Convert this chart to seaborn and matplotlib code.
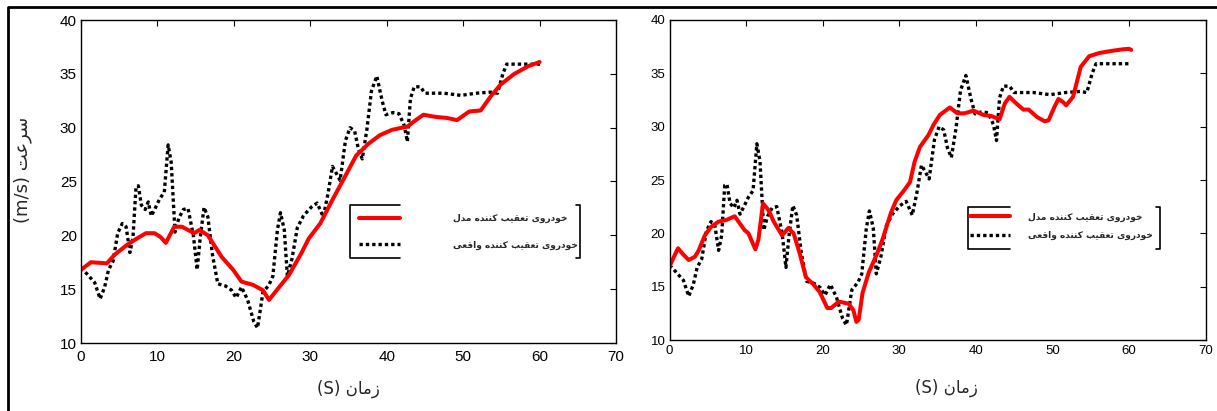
import matplotlib
matplotlib.use("Agg")
import matplotlib.pyplot as plt
from matplotlib.lines import Line2D
import seaborn as sns

# ---------------- data ----------------
t_actual = [0, 0.8, 1.8, 2.5, 3.1, 3.6, 4.2, 4.8, 5.4, 5.9, 6.4, 6.8, 7.2, 7.5, 7.9, 8.4, 8.8,
            9.2, 9.7, 10.3, 10.9, 11.4, 11.8, 12.3, 12.8, 13.4, 14.0, 14.7, 15.2, 15.6, 16.1,
            16.6, 17.2, 17.9, 18.9, 19.7, 20.3, 21.0, 21.8, 22.6, 23.1, 23.8, 24.6, 25.1, 25.7,
            26.1, 26.6, 27.0, 27.6, 28.3, 29.1, 30.1, 30.9, 31.7, 32.3, 32.9, 33.3, 33.9, 34.6,
            35.2, 35.8, 36.3, 36.8, 37.4, 38.0, 38.7, 39.4, 39.9, 40.8, 41.6, 42.3, 42.7, 43.1,
            43.6, 44.4, 45.0, 47.5, 49.7, 51.7, 53.6, 54.5, 55.2, 55.7, 57.9, 60.2]
v_actual = [17.0, 16.4, 15.6, 14.1, 15.2, 16.8, 17.6, 20.2, 21.1, 20.8, 18.4, 19.8, 24.5, 24.6,
            22.8, 22.4, 23.1, 21.8, 22.5, 23.4, 24.0, 28.4, 26.8, 20.3, 21.6, 22.4, 22.5, 20.0,
            16.8, 19.8, 22.6, 21.7, 18.2, 15.5, 15.3, 14.9, 14.2, 15.2, 14.0, 12.0, 11.4, 14.7,
            15.4, 16.2, 20.5, 22.1, 20.5, 16.2, 17.8, 20.7, 21.8, 22.6, 23.0, 21.7, 23.8, 26.4,
            25.9, 25.1, 28.8, 30.0, 29.7, 28.0, 27.1, 29.8, 33.4, 34.8, 32.5, 31.2, 31.4, 31.3,
            30.2, 28.7, 32.7, 33.8, 33.8, 33.2, 33.2, 33.0, 33.2, 33.3, 33.2, 35.0, 35.9, 35.9,
            35.9]

t_model_left = [0, 1.3, 3.4, 4.4, 6.0, 7.3, 8.5, 9.6, 10.4, 11.1, 12.2, 13.2, 14.8, 15.5, 16.6,
                18.4, 19.9, 21.0, 22.5, 23.8, 24.6, 25.6, 27.2, 28.8, 29.8, 31.3, 32.9, 34.5,
                36.0, 37.6, 39.1, 40.7, 42.7, 43.8, 44.8, 46.4, 47.9, 49.2, 50.8, 52.3, 53.6,
                54.9, 56.7, 58.5, 60.0]
v_model_left = [16.8, 17.5, 17.4, 18.2, 19.1, 19.7, 20.2, 20.2, 19.85, 19.3, 20.8, 20.8, 20.2,
                20.5, 20.0, 18.0, 16.8, 15.7, 15.4, 14.9, 14.0, 14.9, 16.3, 18.3, 19.7, 21.1,
                23.3, 25.4, 27.4, 28.5, 29.3, 29.8, 30.1, 30.7, 31.2, 31.0, 30.9, 30.7, 31.5,
                31.6, 32.9, 34.0, 35.0, 35.7, 36.1]

t_model_right = [0, 0.5, 1.1, 1.8, 2.5, 3.3, 3.8, 4.6, 5.4, 6.4, 7.4, 8.5, 9.2, 9.8, 10.3, 11.2,
                 11.6, 12.2, 12.9, 13.6, 14.7, 15.5, 16.2, 17.0, 17.8, 18.8, 19.6, 20.6, 21.1,
                 22.1, 23.4, 24.0, 24.4, 24.7, 25.2, 26.0, 27.1, 27.8, 28.9, 29.6, 30.7, 31.4,
                 32.0, 32.7, 33.8, 34.5, 35.3, 36.6, 37.6, 38.5, 39.7, 41.0, 42.0, 43.1, 43.8,
                 44.4, 45.1, 46.2, 46.9, 48.0, 49.0, 49.5, 50.3, 50.8, 51.4, 51.8, 52.7, 53.7,
                 54.8, 56.1, 57.7, 59.2, 60.0, 60.3]
v_model_right = [16.9, 17.7, 18.6, 18.0, 17.5, 17.8, 18.4, 19.8, 20.6, 21.1, 21.25, 21.6, 20.9,
                 20.3, 20.0, 18.5, 19.4, 22.8, 22.2, 21.1, 19.8, 20.5, 20.0, 18.1, 15.9, 15.2,
                 14.5, 13.0, 13.0, 13.6, 13.4, 12.8, 11.7, 11.9, 14.4, 16.3, 18.1, 19.4, 21.9,
                 23.1, 24.1, 24.8, 26.7, 28.1, 29.2, 30.2, 31.1, 31.8, 31.25, 31.25, 31.5, 31.1,
                 31.0, 30.7, 32.2, 32.8, 32.3, 31.6, 31.6, 30.9, 30.5, 30.6, 31.9, 32.6, 32.3,
                 32.0, 32.8, 35.6, 36.6, 36.9, 37.1, 37.25, 37.3, 37.2]

x_ticks = [0, 10, 20, 30, 40, 50, 60, 70]
y_ticks = [10, 15, 20, 25, 30, 35, 40]

label_model = "خودروی تعقیب کننده مدل"
label_actual = "خودروی تعقیب کننده واقعی"
x_title = "زمان"
y_title = "سرعت"

# ------------- simple Arabic/Persian shaping (presentation forms, visual order) -------------
FORMS = {
    "ا": ("\uFE8D", "\uFE8E", None, None),
    "ب": ("\uFE8F", "\uFE90", "\uFE91", "\uFE92"),
    "ت": ("\uFE95", "\uFE96", "\uFE97", "\uFE98"),
    "خ": ("\uFEA5", "\uFEA6", "\uFEA7", "\uFEA8"),
    "د": ("\uFEA9", "\uFEAA", None, None),
    "ر": ("\uFEAD", "\uFEAE", None, None),
    "ز": ("\uFEAF", "\uFEB0", None, None),
    "س": ("\uFEB1", "\uFEB2", "\uFEB3", "\uFEB4"),
    "ع": ("\uFEC9", "\uFECA", "\uFECB", "\uFECC"),
    "ق": ("\uFED5", "\uFED6", "\uFED7", "\uFED8"),
    "ل": ("\uFEDD", "\uFEDE", "\uFEDF", "\uFEE0"),
    "م": ("\uFEE1", "\uFEE2", "\uFEE3", "\uFEE4"),
    "ن": ("\uFEE5", "\uFEE6", "\uFEE7", "\uFEE8"),
    "ه": ("\uFEE9", "\uFEEA", "\uFEEB", "\uFEEC"),
    "و": ("\uFEED", "\uFEEE", None, None),
    "ی": ("\uFBFC", "\uFBFD", "\uFBFE", "\uFBFF"),
    "ک": ("\uFB8E", "\uFB8F", "\uFB90", "\uFB91"),
}


def shape(s):
    out = []
    for i, c in enumerate(s):
        if c not in FORMS:
            out.append(c)
            continue
        prev = s[i - 1] if i > 0 else None
        nxt = s[i + 1] if i + 1 < len(s) else None
        jp = prev in FORMS and FORMS[prev][2] is not None
        jn = FORMS[c][2] is not None and nxt in FORMS
        f = FORMS[c]
        if jp and jn:
            g = f[3]
        elif jp:
            g = f[1]
        elif jn:
            g = f[2]
        else:
            g = f[0]
        out.append(g)
    return "".join(reversed(out))


# ---------------- style ----------------
sns.set_style("white")
plt.rcParams["font.family"] = ["Liberation Sans", "DejaVu Sans"]
plt.rcParams["axes.edgecolor"] = "black"
plt.rcParams["axes.linewidth"] = 1.0

W, H = 1217, 411
fig = plt.figure(figsize=(W / 100, H / 100), dpi=100)
fig.patch.set_facecolor("white")

ax_l = fig.add_axes([81 / W, (H - 343) / H, (616 - 81) / W, (343 - 20) / H])
ax_r = fig.add_axes([669.6 / W, (H - 340) / H, (1205.5 - 669.6) / W, (340 - 20) / H])

red = "#ff0000"
dot_style = (0, (1.0, 0.9))

panels = [
    (ax_l, t_model_left, v_model_left, 11, 5, 3),
    (ax_r, t_model_right, v_model_right, 9.5, 3.5, 3),
]

for ax, tm, vm, fs, xpad, ypad in panels:
    sns.lineplot(x=t_actual, y=v_actual, ax=ax, color="black", linewidth=2.4,
                 linestyle=dot_style, estimator=None, sort=False)
    sns.lineplot(x=tm, y=vm, ax=ax, color=red, linewidth=2.9,
                 estimator=None, sort=False)
    ax.set_xlim(0, 70)
    ax.set_ylim(10, 40)
    ax.set_xticks(x_ticks)
    ax.set_yticks(y_ticks)
    ax.tick_params(axis="both", direction="in", top=True, right=True,
                   length=4, width=0.8, labelsize=fs, colors="black")
    ax.tick_params(axis="x", pad=xpad)
    ax.tick_params(axis="y", pad=ypad)
    for sp in ax.spines.values():
        sp.set_visible(True)
        sp.set_color("black")
        sp.set_linewidth(1.0)
    ax.set_xlabel("(S) " + shape(x_title), fontsize=12, family=["DejaVu Sans"])
    ax.set_ylabel("")

ax_l.xaxis.set_label_coords(0.5, -0.115)
ax_r.xaxis.set_label_coords(0.516, -0.12)
ax_l.set_ylabel("(m/s) " + shape(y_title), fontsize=13, family=["DejaVu Sans"])
ax_l.yaxis.set_label_coords(-0.092, 0.536)

# ---------------- legends ----------------
def add_legend(ax, x_handle, y_top, hlen, tpad, lspace, frame):
    handles = [Line2D([], [], color=red, linewidth=2.9),
               Line2D([], [], color="black", linewidth=2.4, linestyle=dot_style)]
    leg = ax.legend(handles, [shape(label_model), shape(label_actual)],
                    loc="upper left", bbox_to_anchor=(x_handle, y_top), frameon=False,
                    borderpad=0, borderaxespad=0, handlelength=hlen, handletextpad=tpad,
                    labelspacing=lspace, prop={"family": "DejaVu Sans", "size": 6.5,
                                              "weight": "bold"})
    x0, xtop, x1, yt, yb = frame
    kw = dict(transform=ax.transAxes, color="black", linewidth=1.2, clip_on=False)
    ax.add_artist(Line2D([xtop, x0, x0, xtop], [yt, yt, yb, yb], **kw))
    ax.add_artist(Line2D([x1 - 0.008, x1, x1, x1 - 0.008], [yt, yt, yb, yb], **kw))
    return leg

add_legend(ax_l, 0.520, 0.400, 4.5, 5.9, 1.93, (0.503, 0.596, 0.933, 0.427, 0.263))
add_legend(ax_r, 0.5606, 0.398, 4.4, 2.0, 1.04, (0.557, 0.635, 0.915, 0.416, 0.284))

# ---------------- outer frame ----------------
fig.add_artist(Line2D([8 / W, 8 / W, 1.0], [0.0, 1 - 7 / H, 1 - 7 / H],
                      transform=fig.transFigure, color="black", linewidth=2.0))

fig.savefig("out.png", dpi=100, facecolor="white")
